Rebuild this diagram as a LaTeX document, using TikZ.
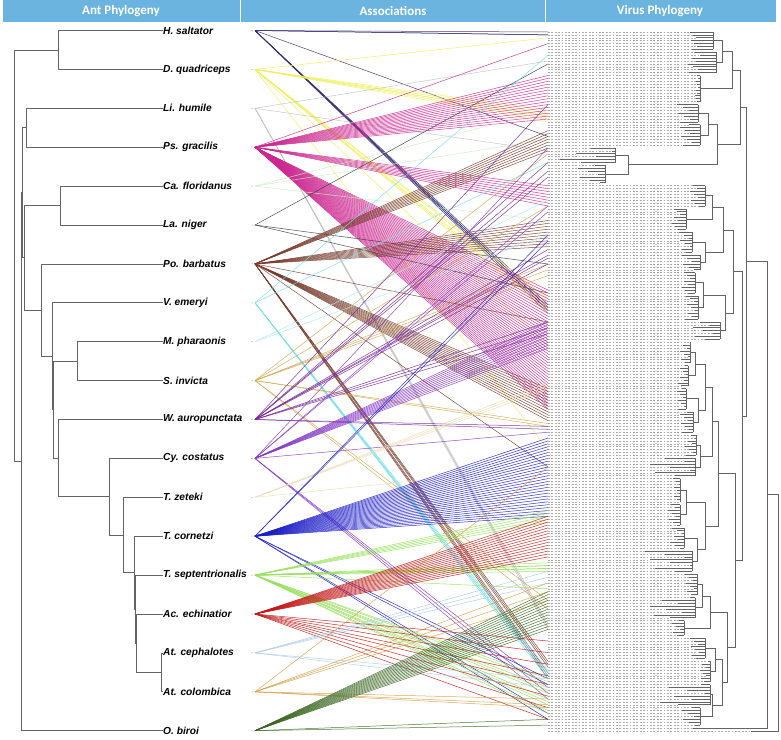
\documentclass[tikz,border=0pt]{standalone}
\usepackage{fontspec}
\setmainfont{Liberation Sans}
\newfontfamily\hdrfont{Carlito}
\usetikzlibrary{calc}
\definecolor{hdr}{RGB}{107,180,224}
\definecolor{trc}{RGB}{100,100,100}
\definecolor{cHs}{RGB}{50,45,115}
\definecolor{cDq}{RGB}{240,240,90}
\definecolor{cLh}{RGB}{195,195,195}
\definecolor{cPg}{RGB}{205,40,145}
\definecolor{cCf}{RGB}{210,235,195}
\definecolor{cLn}{RGB}{60,60,70}
\definecolor{cPb}{RGB}{120,60,45}
\definecolor{cVe}{RGB}{120,225,235}
\definecolor{cMp}{RGB}{175,235,240}
\definecolor{cSi}{RGB}{210,170,80}
\definecolor{cWa}{RGB}{120,40,150}
\definecolor{cCc}{RGB}{135,60,200}
\definecolor{cTz}{RGB}{240,220,180}
\definecolor{cTc}{RGB}{30,30,200}
\definecolor{cTs}{RGB}{150,225,90}
\definecolor{cAe}{RGB}{195,25,25}
\definecolor{cAc}{RGB}{170,205,235}
\definecolor{cAo}{RGB}{215,160,70}
\definecolor{cOb}{RGB}{60,105,35}
\tikzset{
  tr/.style={trc, line width=0.8pt},
  dotl/.style={gray!65, line width=0.55pt, dash pattern=on 1.8pt off 1.6pt},
  assoc/.style={line width=0.5pt, opacity=0.9},
  antlbl/.style={anchor=west, inner sep=0pt, font=\bfseries\itshape\fontsize{10.2}{11}\selectfont},
  hdrtxt/.style={text=white, font=\hdrfont\bfseries\fontsize{13}{15}\selectfont},
}
\newcommand\joinn[4]{%
  \coordinate (jx) at (#2,0);
  \draw[tr] (#3) -- (#3 -| jx) -- (#4 -| jx) -- (#4);
  \coordinate (#1) at ($(#3 -| jx)!0.5!(#4 -| jx)$);
}
\newcommand\vleaf[6]{%
  \foreach \i in {#2,...,#3}{%
    \pgfmathsetmacro\xt{#4+(#5-#4)*mod(\i*37,11)/10}%
    \draw[dotl] (548,\i) -- (\xt,\i);
    \draw[tr] (\xt,\i) -- (#6,\i);
  }
  \draw[tr] (#6,#2) -- (#6,#3);
  \coordinate (#1) at (#6,{(#2+#3)/2});
}
\newcommand\bund[5]{%
  \foreach \k in {1,...,#5}{%
    \pgfmathtruncatemacro\vi{#3+round((#4-#3)*(\k-1)/max(#5-1,1))}%
    \draw[assoc,#1] (#2) -- (v\vi);
  }
}
\begin{document}
\begin{tikzpicture}[x=1pt,y=-1pt]
\useasboundingbox (0,0) rectangle (781,739);
\fill[white] (0,0) rectangle (781,739);

% virus tip anchors
\begin{scope}[yshift=-32pt, y=-2.9pt]
  \foreach \i in {0,...,241} \coordinate (v\i) at (548,\i);
\end{scope}

% ant tips
\foreach \nm/\yy/\lab in {hs/30.5/H. saltator, dq/69.4/D. quadriceps, lh/108.3/Li. humile, pg/147.2/Ps. gracilis, cf/186.1/Ca. floridanus, ln/225/La. niger, pb/263.9/Po. barbatus, ve/302.8/V. emeryi, mp/341.7/M. pharaonis, si/380.6/S. invicta, wa/419.5/W. auropunctata, cc/458.4/Cy. costatus, tz/497.3/T. zeteki, tc/536.2/T. cornetzi, ts/575.1/T. septentrionalis, ae/614/Ac. echinatior, ac/652.9/At. cephalotes, ao/691.8/At. colombica, ob/730.7/O. biroi}{
  \coordinate (\nm) at (163,\yy);
  \coordinate (\nm A) at (255,\yy);
  \node[antlbl] (\nm L) at (163,\yy) {\lab};
  \fill[gray] (252,\yy) circle (0.5);
}

% associations
\bund{cHs}{hsA}{0}{1}{3}
\bund{cHs}{hsA}{36}{36}{1}
\bund{cHs}{hsA}{94}{97}{6}
\bund{cDq}{dqA}{2}{2}{1}
\bund{cDq}{dqA}{27}{31}{6}
\bund{cDq}{dqA}{92}{97}{5}
\bund{cDq}{dqA}{108}{108}{1}
\bund{cDq}{dqA}{144}{144}{1}
\bund{cLh}{lhA}{10}{10}{1}
\bund{cLh}{lhA}{41}{41}{1}
\bund{cLh}{lhA}{204}{206}{4}
\bund{cPg}{pgA}{4}{4}{1}
\bund{cPg}{pgA}{15}{30}{16}
\bund{cPg}{pgA}{53}{60}{8}
\bund{cPg}{pgA}{89}{130}{42}
\bund{cCf}{cfA}{27}{27}{1}
\bund{cCf}{cfA}{37}{37}{1}
\bund{cCf}{cfA}{65}{65}{1}
\bund{cLn}{lnA}{11}{11}{1}
\bund{cLn}{lnA}{80}{80}{1}
\bund{cLn}{lnA}{90}{90}{1}
\bund{cPb}{pbA}{34}{41}{8}
\bund{cPb}{pbA}{65}{74}{10}
\bund{cPb}{pbA}{123}{134}{12}
\bund{cPb}{pbA}{217}{223}{6}
\bund{cPb}{pbA}{100}{100}{1}
\bund{cPb}{pbA}{150}{150}{1}
\bund{cVe}{veA}{8}{8}{1}
\bund{cVe}{veA}{45}{45}{1}
\bund{cVe}{veA}{220}{223}{5}
\bund{cMp}{mpA}{58}{58}{1}
\bund{cMp}{mpA}{70}{70}{1}
\bund{cSi}{siA}{42}{42}{1}
\bund{cSi}{siA}{60}{60}{1}
\bund{cSi}{siA}{80}{84}{3}
\bund{cSi}{siA}{135}{136}{2}
\bund{cSi}{siA}{196}{199}{2}
\bund{cWa}{waA}{25}{25}{1}
\bund{cWa}{waA}{45}{50}{3}
\bund{cWa}{waA}{75}{80}{4}
\bund{cWa}{waA}{100}{104}{3}
\bund{cWa}{waA}{136}{137}{2}
\bund{cCc}{ccA}{40}{40}{1}
\bund{cCc}{ccA}{60}{62}{2}
\bund{cCc}{ccA}{100}{109}{10}
\bund{cCc}{ccA}{138}{138}{1}
\bund{cCc}{ccA}{226}{230}{3}
\bund{cTz}{tzA}{121}{123}{3}
\bund{cTz}{tzA}{150}{150}{1}
\bund{cTc}{tcA}{140}{167}{28}
\bund{cTc}{tcA}{70}{72}{2}
\bund{cTc}{tcA}{223}{225}{2}
\bund{cTc}{tcA}{235}{237}{2}
\bund{cTs}{tsA}{165}{169}{5}
\bund{cTs}{tsA}{183}{186}{6}
\bund{cTs}{tsA}{192}{192}{1}
\bund{cTs}{tsA}{223}{235}{10}
\bund{cAe}{aeA}{167}{181}{15}
\bund{cAe}{aeA}{210}{237}{8}
\bund{cAc}{acA}{186}{190}{3}
\bund{cAc}{acA}{223}{226}{2}
\bund{cAo}{aoA}{150}{150}{1}
\bund{cAo}{aoA}{190}{196}{3}
\bund{cAo}{aoA}{230}{233}{3}
\bund{cOb}{obA}{193}{206}{14}
\bund{cOb}{obA}{237}{239}{2}

% virus tree
\begin{scope}[yshift=-32pt, y=-2.9pt]
  \vleaf{A1}{0}{6}{690}{698}{713}
  \vleaf{A2}{7}{14}{688}{700}{716}
  \vleaf{B}{15}{24}{695}{698}{700}
  \vleaf{C1}{25}{31}{675}{690}{698}
  \vleaf{C2}{32}{39}{680}{693}{700}
  \vleaf{D1}{40}{45}{560}{612}{615}
  \vleaf{D2}{46}{52}{575}{600}{605}
  \vleaf{E1}{53}{60}{690}{700}{705}
  \vleaf{E2}{61}{68}{672}{680}{686}
  \vleaf{E3}{69}{76}{678}{690}{692}
  \vleaf{E4}{77}{82}{682}{695}{700}
  \vleaf{F1}{83}{90}{682}{690}{695}
  \vleaf{F2}{91}{99}{685}{695}{698}
  \vleaf{F3}{100}{106}{690}{715}{720}
  \vleaf{G1}{107}{114}{680}{690}{690}
  \vleaf{G2}{115}{122}{678}{686}{688}
  \vleaf{G3}{123}{130}{676}{684}{686}
  \vleaf{G4}{131}{138}{680}{690}{693}
  \vleaf{G5}{139}{146}{685}{695}{696}
  \vleaf{G6}{147}{153}{640}{690}{695}
  \vleaf{H1}{154}{162}{673}{680}{680}
  \vleaf{H2}{163}{170}{668}{678}{680}
  \vleaf{H3}{171}{178}{670}{682}{684}
  \vleaf{H4}{179}{186}{640}{690}{692}
  \vleaf{I1}{187}{194}{685}{695}{697}
  \vleaf{I2}{195}{202}{650}{690}{695}
  \vleaf{I3}{203}{208}{670}{680}{684}
  \vleaf{J1}{209}{216}{690}{700}{705}
  \vleaf{J2}{217}{224}{700}{708}{710}
  \vleaf{J3}{225}{232}{660}{705}{710}
  \vleaf{J4}{233}{239}{680}{695}{700}
  \draw[dotl] (548,240) -- (693,240);
  \coordinate (t240) at (693,240);
  \draw[dotl] (548,241) -- (751,241);
  \coordinate (t241) at (751,241);
  \joinn{A}{722}{A1}{A2}
  \joinn{AB}{732}{A}{B}
  \joinn{C}{708}{C1}{C2}
  \joinn{D}{628}{D1}{D2}
  \joinn{CD}{717}{C}{D}
  \joinn{U1}{740}{AB}{CD}
  \joinn{E12}{712}{E1}{E2}
  \joinn{E34}{705}{E3}{E4}
  \joinn{E}{723}{E12}{E34}
  \joinn{F12}{703}{F1}{F2}
  \joinn{F}{725}{F12}{F3}
  \joinn{EF}{733}{E}{F}
  \joinn{G12}{695}{G1}{G2}
  \joinn{G34}{698}{G3}{G4}
  \joinn{G56}{700}{G5}{G6}
  \joinn{G1234}{705}{G12}{G34}
  \joinn{G}{712}{G1234}{G56}
  \joinn{H12}{686}{H1}{H2}
  \joinn{H34}{697}{H3}{H4}
  \joinn{H}{705}{H12}{H34}
  \joinn{GH}{718}{G}{H}
  \joinn{I12}{702}{I1}{I2}
  \joinn{I}{710}{I12}{I3}
  \joinn{J12}{715}{J1}{J2}
  \joinn{J34}{712}{J3}{J4}
  \joinn{J}{722}{J12}{J34}
  \joinn{IJ}{727}{I}{J}
  \joinn{GHIJ}{735}{GH}{IJ}
  \joinn{EJ}{742}{EF}{GHIJ}
  \joinn{UP}{746}{U1}{EJ}
  \joinn{N1}{767}{UP}{t240}
  \joinn{RT}{778}{N1}{t241}
\end{scope}

% ant tree
\joinn{HD}{58}{hs}{dq}
\joinn{LP}{26}{lh}{pg}
\joinn{CL}{60}{cf}{ln}
\joinn{MS}{77}{mp}{si}
\joinn{AA}{161}{ac}{ao}
\joinn{W2}{136}{ae}{AA}
\joinn{V2}{135}{ts}{W2}
\joinn{U}{134}{tc}{V2}
\joinn{T}{123}{tz}{U}
\joinn{S2}{109}{cc}{T}
\joinn{R}{58}{wa}{S2}
\joinn{Q}{53}{MS}{R}
\joinn{P}{52}{ve}{Q}
\joinn{Z}{41}{pb}{P}
\joinn{Y}{24}{CL}{Z}
\joinn{X}{22.5}{LP}{Y}
\joinn{AN}{21}{X}{ob}
\joinn{ROOT}{14}{HD}{AN}

% header
\fill[hdr] (3,0) rectangle (776,22);
\draw[white, line width=1.2pt] (240.5,0) -- (240.5,22);
\draw[white, line width=1.2pt] (545.5,0) -- (545.5,22);
\node[hdrtxt] (h1) at (121,11) {Ant Phylogeny};
\node[hdrtxt] (h2) at (393,11) {Associations};
\node[hdrtxt] (h3) at (660,11) {Virus Phylogeny};
\end{tikzpicture}
\end{document}
